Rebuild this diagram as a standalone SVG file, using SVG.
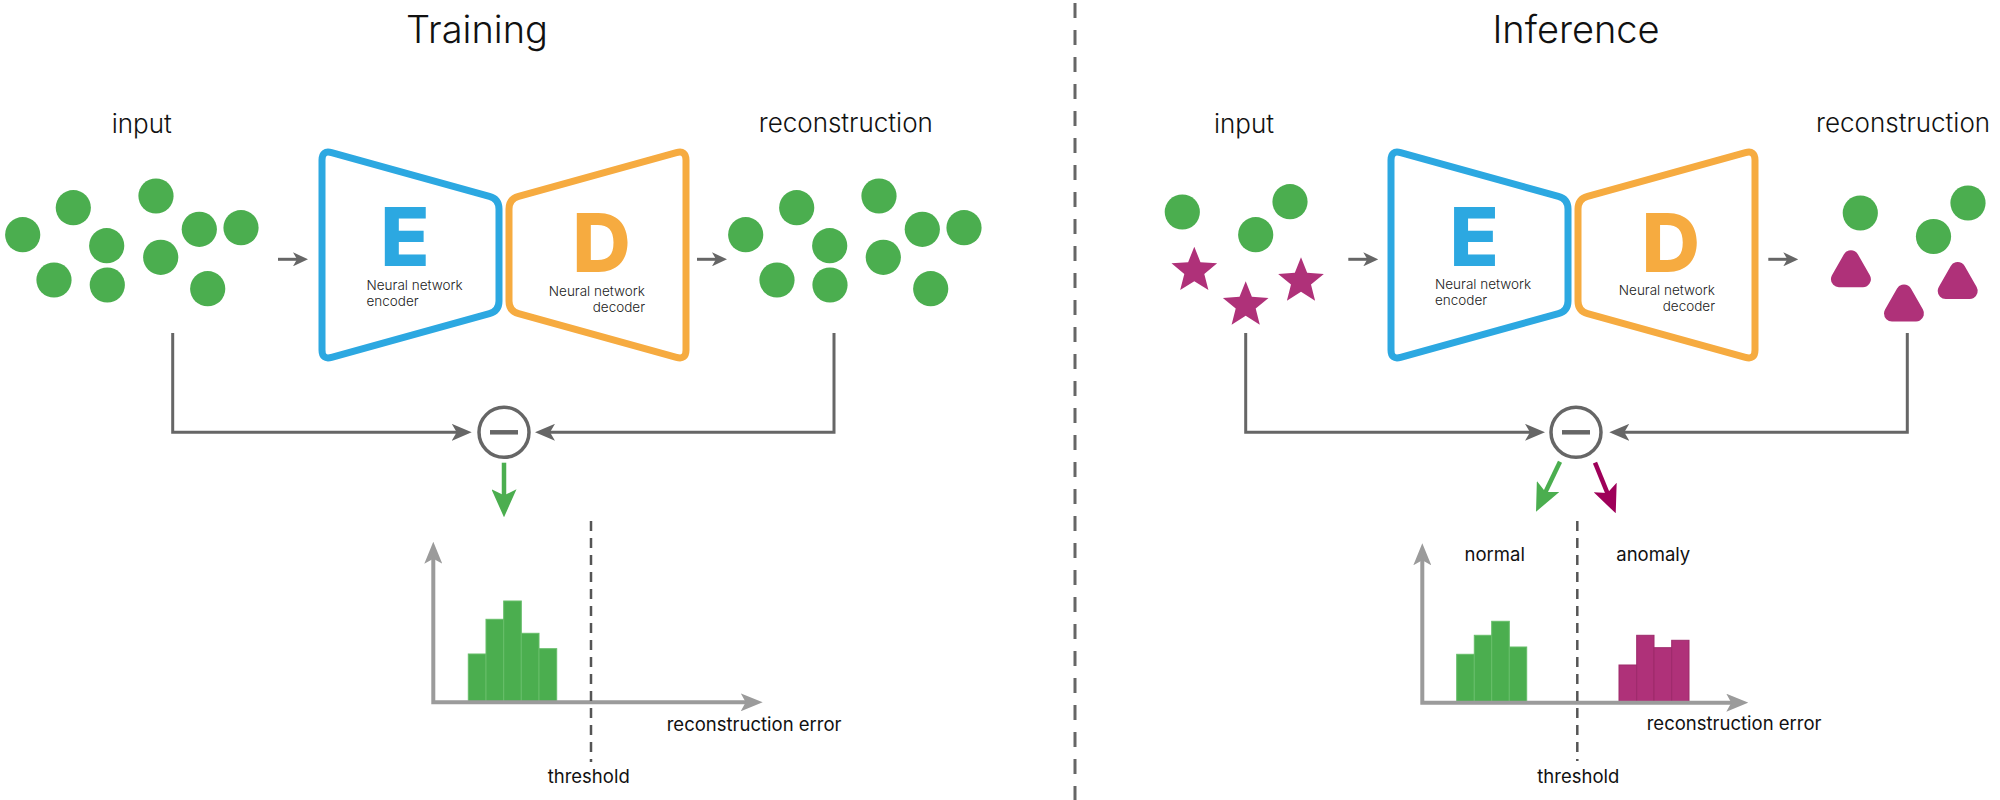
<svg xmlns="http://www.w3.org/2000/svg" width="2000" height="800" viewBox="0 0 2000 800">
<style>
text{font-family:Inter,"Noto Sans","Liberation Sans",sans-serif;fill:#111}
.title{font-size:38px;font-weight:300;text-anchor:middle}
.lbl{font-size:26px;font-weight:300}
.small{font-size:18.5px;font-weight:380}
.nn{font-size:13.5px;font-weight:350;fill:#222}
.big{font-size:81px;font-weight:800;text-anchor:middle}
.dot{fill:#4BAE4F}
.enc{fill:none;stroke:#2CA8E1;stroke-width:7}
.dec{fill:none;stroke:#F6AB40;stroke-width:7}
.conn{fill:none;stroke:#666;stroke-width:3}
.axis{fill:none;stroke:#9B9B9B;stroke-width:4}
.thr{fill:none;stroke:#555;stroke-width:2.5;stroke-dasharray:10 7}
.gbar{fill:#4BAE4F;stroke:#66BD69;stroke-width:1}
.mbar{fill:#AF3179;stroke:#9D2A6B;stroke-width:1}
.node{fill:#fff;stroke:#666;stroke-width:3.5}
.minus{stroke:#666;stroke-width:4.5}
</style>
<defs>
<marker id="sh" markerUnits="userSpaceOnUse" markerWidth="15" markerHeight="14" viewBox="0 0 15 14" refX="6" refY="7" orient="auto"><path d="M0,0 L15,7 L0,14 L4,7 Z" fill="#666"/></marker>
<marker id="gh" markerUnits="userSpaceOnUse" markerWidth="20" markerHeight="17" viewBox="0 0 20 17" refX="8" refY="8.5" orient="auto"><path d="M0,0 L20,8.5 L0,17 L5,8.5 Z" fill="#666"/></marker>
<marker id="axh" markerUnits="userSpaceOnUse" markerWidth="22" markerHeight="18" viewBox="0 0 22 18" refX="8" refY="9" orient="auto-start-reverse"><path d="M0,0 L22,9 L0,18 L5,9 Z" fill="#9B9B9B"/></marker>
<marker id="grh" markerUnits="userSpaceOnUse" markerWidth="28" markerHeight="25" viewBox="0 0 28 25" refX="10" refY="12.5" orient="auto"><path d="M0,0 L28,12.5 L0,25 L6,12.5 Z" fill="#4BAE4F"/></marker>
<marker id="mgh" markerUnits="userSpaceOnUse" markerWidth="28" markerHeight="25" viewBox="0 0 28 25" refX="10" refY="12.5" orient="auto"><path d="M0,0 L28,12.5 L0,25 L6,12.5 Z" fill="#9E0059"/></marker>
<path id="star" d="M0,-24 L6.17,-8.49 L22.83,-7.42 L9.99,3.24 L14.11,19.42 L0,10.5 L-14.11,19.42 L-9.99,3.24 L-22.83,-7.42 L-6.17,-8.49 Z" fill="#AF3179"/>
<path id="tri" d="M0,-10.5 L12,10.5 L-12,10.5 Z" fill="#AF3179" stroke="#AF3179" stroke-width="16" stroke-linejoin="round"/>
<path id="encp" d="M322,160 Q322,150 331.6,152.7 L489.4,196.3 Q499,199 499,209 L499,301 Q499,311 489.4,313.7 L331.6,357.3 Q322,360 322,350 Z"/>
<path id="decp" d="M686,160 Q686,150 676.4,152.7 L518.6,196.3 Q509,199 509,209 L509,301 Q509,311 518.6,313.7 L676.4,357.3 Q686,360 686,350 Z"/>
</defs>
<rect width="2000" height="800" fill="#fff"/>

<g id="divider"><line x1="1075" y1="3" x2="1075" y2="800" stroke="#666" stroke-width="3" stroke-dasharray="15 12"/></g>

<g id="titles">
<text class="title" x="477" y="43">Training</text>
<text class="title" x="1576" y="43">Inference</text>
</g>

<!-- Training -->
<g id="train-input">
<text class="lbl" x="141.7" y="133" text-anchor="middle">input</text>
<circle class="dot" cx="22.7" cy="234.7" r="17.6"/>
<circle class="dot" cx="73.3" cy="207.7" r="17.6"/>
<circle class="dot" cx="156" cy="196" r="17.6"/>
<circle class="dot" cx="106.7" cy="245.7" r="17.6"/>
<circle class="dot" cx="199.3" cy="229.3" r="17.6"/>
<circle class="dot" cx="241" cy="227.7" r="17.6"/>
<circle class="dot" cx="160.7" cy="257.3" r="17.6"/>
<circle class="dot" cx="54" cy="280" r="17.6"/>
<circle class="dot" cx="107.3" cy="285" r="17.6"/>
<circle class="dot" cx="207.7" cy="288.7" r="17.6"/>
</g>
<g id="train-encoder">
<use href="#encp" class="enc"/>
<text class="big" x="405" y="266" style="fill:#2CA8E1">E</text>
<text class="nn" x="366.5" y="289.5">Neural network</text>
<text class="nn" x="366.5" y="305.5">encoder</text>
</g>
<g id="train-decoder">
<use href="#decp" class="dec"/>
<text class="big" x="601.5" y="271.7" style="fill:#F6AB40">D</text>
<text class="nn" x="645" y="295.5" text-anchor="end">Neural network</text>
<text class="nn" x="645" y="311.5" text-anchor="end">decoder</text>
</g>
<g id="train-recon">
<text class="lbl" x="845.8" y="132" text-anchor="middle">reconstruction</text>
<circle class="dot" cx="745.7" cy="234.7" r="17.6"/>
<circle class="dot" cx="796.7" cy="207.7" r="17.6"/>
<circle class="dot" cx="879" cy="196" r="17.6"/>
<circle class="dot" cx="829.7" cy="245.7" r="17.6"/>
<circle class="dot" cx="922.3" cy="229.3" r="17.6"/>
<circle class="dot" cx="964" cy="227.7" r="17.6"/>
<circle class="dot" cx="883.3" cy="257.3" r="17.6"/>
<circle class="dot" cx="777" cy="280" r="17.6"/>
<circle class="dot" cx="830" cy="285" r="17.6"/>
<circle class="dot" cx="930.7" cy="288.7" r="17.6"/>
</g>
<g id="train-minus">
<circle class="node" cx="504" cy="432.3" r="25"/>
<line class="minus" x1="490" y1="432.3" x2="518" y2="432.3"/>
</g>
<g id="train-chart">
<rect class="gbar" x="468.3" y="654" width="17.7" height="48"/>
<rect class="gbar" x="486" y="619.3" width="17.7" height="82.7"/>
<rect class="gbar" x="503.7" y="601" width="17.6" height="101"/>
<rect class="gbar" x="521.3" y="633.3" width="17.7" height="68.7"/>
<rect class="gbar" x="539" y="648.7" width="17.7" height="53.3"/>
<path class="axis" d="M433.3,555.7 L433.3,702.3 L748.7,702.3" marker-start="url(#axh)" marker-end="url(#axh)"/>
<line class="thr" x1="591" y1="521" x2="591" y2="762"/>
<text class="small" x="666.7" y="730.7">reconstruction error</text>
<text class="small" x="588.7" y="783" text-anchor="middle">threshold</text>
</g>

<!-- Inference -->
<g id="inf-input">
<text class="lbl" x="1244" y="133" text-anchor="middle">input</text>
<circle class="dot" cx="1182.3" cy="212" r="17.6"/>
<circle class="dot" cx="1290" cy="201.7" r="17.6"/>
<circle class="dot" cx="1255.7" cy="234.7" r="17.6"/>
<use href="#star" x="1194.3" y="270.7"/>
<use href="#star" x="1245.7" y="305.3"/>
<use href="#star" x="1301" y="281.3"/>
</g>
<g id="inf-encoder">
<use href="#encp" class="enc" x="1069"/>
<text class="big" x="1474.3" y="266" style="fill:#2CA8E1">E</text>
<text class="nn" x="1435" y="288.8">Neural network</text>
<text class="nn" x="1435" y="304.8">encoder</text>
</g>
<g id="inf-decoder">
<use href="#decp" class="dec" x="1069"/>
<text class="big" x="1670.8" y="271.7" style="fill:#F6AB40">D</text>
<text class="nn" x="1715" y="295.2" text-anchor="end">Neural network</text>
<text class="nn" x="1715" y="311.2" text-anchor="end">decoder</text>
</g>
<g id="inf-recon">
<text class="lbl" x="1816" y="132">reconstruction</text>
<circle class="dot" cx="1860.3" cy="213" r="17.6"/>
<circle class="dot" cx="1968" cy="203" r="17.6"/>
<circle class="dot" cx="1933.5" cy="236.5" r="17.6"/>
<use href="#tri" x="1850.9" y="268.7"/>
<use href="#tri" x="1904" y="303"/>
<use href="#tri" x="1957.7" y="280.5"/>
</g>
<g id="inf-minus">
<circle class="node" cx="1576" cy="432.3" r="25"/>
<line class="minus" x1="1562" y1="432.3" x2="1590" y2="432.3"/>
</g>
<g id="inf-chart">
<text class="small" x="1494.7" y="560.7" text-anchor="middle">normal</text>
<text class="small" x="1653.3" y="560.7" text-anchor="middle">anomaly</text>
<rect class="gbar" x="1456.7" y="654.3" width="17.6" height="48.4"/>
<rect class="gbar" x="1474.3" y="635.3" width="17.4" height="67.4"/>
<rect class="gbar" x="1491.7" y="621.3" width="17.6" height="81.4"/>
<rect class="gbar" x="1509.3" y="647" width="17.4" height="55.7"/>
<rect class="mbar" x="1619" y="665" width="17.7" height="37.7"/>
<rect class="mbar" x="1636.7" y="635.3" width="17.3" height="67.4"/>
<rect class="mbar" x="1654" y="647.7" width="17.7" height="55"/>
<rect class="mbar" x="1671.7" y="640.3" width="17.3" height="62.4"/>
<path class="axis" d="M1422.3,557.3 L1422.3,702.7 L1734.3,702.7" marker-start="url(#axh)" marker-end="url(#axh)"/>
<line class="thr" x1="1577.3" y1="521" x2="1577.3" y2="761"/>
<text class="small" x="1646.7" y="729.5">reconstruction error</text>
<text class="small" x="1578.3" y="783" text-anchor="middle">threshold</text>
</g>

<g id="connectors">
<line class="conn" x1="278" y1="259.3" x2="299" y2="259.3" marker-end="url(#sh)"/>
<line class="conn" x1="697" y1="259.3" x2="718" y2="259.3" marker-end="url(#sh)"/>
<path class="conn" d="M172.7,333 L172.7,432.3 L459.7,432.3" marker-end="url(#gh)"/>
<path class="conn" d="M834,333 L834,432.3 L547,432.3" marker-end="url(#gh)"/>
<line x1="504" y1="462.7" x2="504" y2="499.3" stroke="#4BAE4F" stroke-width="4.5" marker-end="url(#grh)"/>

<line class="conn" x1="1348.3" y1="259.3" x2="1369.3" y2="259.3" marker-end="url(#sh)"/>
<line class="conn" x1="1768.3" y1="259.3" x2="1789.3" y2="259.3" marker-end="url(#sh)"/>
<path class="conn" d="M1245.7,333 L1245.7,432.3 L1533,432.3" marker-end="url(#gh)"/>
<path class="conn" d="M1907.3,333 L1907.3,432.3 L1621.3,432.3" marker-end="url(#gh)"/>
<line x1="1560" y1="461.7" x2="1543.8" y2="495.5" stroke="#4BAE4F" stroke-width="4.5" marker-end="url(#grh)"/>
<line x1="1595" y1="462.7" x2="1608.9" y2="496.7" stroke="#9E0059" stroke-width="4.5" marker-end="url(#mgh)"/>
</g>
</svg>
